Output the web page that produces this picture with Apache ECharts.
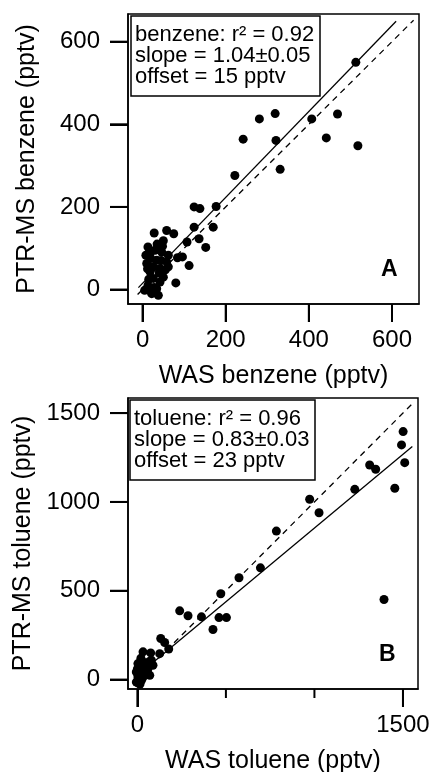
<!DOCTYPE html>
<html>
<head>
<meta charset="utf-8">
<script src="https://cdn.jsdelivr.net/npm/echarts@6/dist/echarts.min.js"></script>
<style>
  html, body { margin: 0; padding: 0; background: #fff; }
  #chart { width: 433px; height: 772px; }
</style>
</head>
<body>
<div id="chart"></div>
<script>
// panel A - benzene (pptv)
const benzeneWAS = [513, 281, 319, 407, 469, 242, 321, 442, 518, 331, 222, 124, 138, 177, 124, 170, 136, 152, 107, 28, 58, 75, 50, 84, 96, 112, 80,
    13, 18, 46, 10, 34, 58, 42, 18, 26, 13, 5, 22, 38, 34, 42, 62, 26, 50, 8, 62, 20, 30, 45, 55, 15, 28, 40, 12, 48, 35, 20, 30];
const benzenePTR = [550, 413, 426, 413, 425, 364, 361, 367, 348, 291, 276, 200, 196, 201, 151, 151, 123, 102, 115, 137, 143, 135, 118, 77, 79, 58, 16,
    103, 87, 91, 63, 71, 67, 51, 43, 27, 10, -2, -10, -14, 2, 18, 83, 55, 30, 83, 55, 75, 95, 70, 48, 25, 5, 40, 50, 105, 110, -5, -8];
const benzeneFit = [1.04, 15];   // slope, offset
const benzeneFitX = [-10, 610];
const benzeneOneX = [-12, 652];
const benzeneTicks = [0, 200, 400, 600];

// panel B - toluene (pptv)
const tolueneWAS = [1501, 1492, 1510, 1312, 1346, 1454, 1228, 973, 1026, 785, 1393, 695, 574, 471, 239, 286, 362, 461, 503, 427, 132, 154, 177, 126, 75, 32,
    88, 60, 32, 3, 13, 41, 3, 23, 70, -6, 51, 79, 13, -6, 20, 45, 10, 30, 55, 0, 35, 65, 5, 15];
const toluenePTR = [1396, 1321, 1221, 1208, 1184, 1077, 1071, 1015, 939, 836, 451, 629, 573, 483, 387, 359, 353, 349, 349, 282, 231, 209, 172, 146, 150, 156,
    81, 62, 99, 90, 52, 34, 15, -4, 24, -14, 71, 109, 71, 43, 120, 90, 30, 10, 45, 60, 60, 100, -20, -25];
const tolueneFit = [0.83, 23];
const tolueneFitX = [-10, 1553];
const tolueneOneX = [-12, 1548];
const tolueneTicks = [0, 500, 1000, 1500];
const tolueneLabels = [0, 1500];

const FONT = 'Liberation Sans';
const rangeA = { min: -35, max: 665 };
const rangeAy = { min: -35, max: 667 };
const rangeB = { min: -53, max: 1585 };

const pairs = (xs, ys) => xs.map((x, i) => [x, ys[i]]);
const fitLine = (fit, xs) => xs.map((x) => [x, fit[0] * x + fit[1]]);

const valueAxis = (grid, range, values, margin, name, nameGap) => ({
    type: 'value', gridIndex: grid, ...range,
    splitLine: { show: false },
    axisLine: { show: true, onZero: false, lineStyle: { color: '#000', width: 1.5 } },
    axisTick: { show: true, length: 18, customValues: values, lineStyle: { color: '#000', width: 2 } },
    axisLabel: { color: '#000', fontFamily: FONT, fontSize: 24, margin, customValues: values, formatter: (v) => String(v) },
    name, nameGap, nameLocation: 'middle',
    nameTextStyle: { color: '#000', fontFamily: FONT, fontSize: 25 }
});

// outward tick marks placed through the axis scales (custom series, not clipped to the grid)
const tickMarks = (axisIdx, points, dx, dy) => ({
    type: 'custom', xAxisIndex: axisIdx, yAxisIndex: axisIdx, clip: false, silent: true, z: 5,
    data: points,
    renderItem: (params, api) => {
        const p = api.coord([api.value(0), api.value(1)]);
        return {
            type: 'line',
            shape: { x1: p[0], y1: p[1], x2: p[0] + dx, y2: p[1] + dy },
            style: { stroke: '#000', lineWidth: 2 }
        };
    }
});

const statBox = {
    borderColor: '#000',
    borderWidth: 1.5,
    backgroundColor: '#fff',
    padding: [8, 6, 9, 4],
    textStyle: { color: '#000', fontFamily: FONT, fontSize: 22, fontWeight: 'normal', lineHeight: 21 }
};
const panelTag = {
    textStyle: { color: '#000', fontFamily: FONT, fontSize: 23, fontWeight: 'bold' }
};

const option = {
    animation: false,
    backgroundColor: '#fff',
    title: [
        { ...statBox, text: 'benzene: r² = 0.92\nslope = 1.04±0.05\noffset = 15 pptv', left: 131, top: 16 },
        { ...panelTag, text: 'A', left: 376, top: 253 },
        { ...statBox, text: 'toluene: r² = 0.96\nslope = 0.83±0.03\noffset = 23 pptv', left: 130, top: 400 },
        { ...panelTag, text: 'B', left: 374, top: 638 }
    ],
    grid: [
        { left: 128, top: 14, width: 291, height: 290, outerBoundsMode: 'none', show: true, borderColor: '#000', borderWidth: 1.5 },
        { left: 128, top: 398, width: 290, height: 291, outerBoundsMode: 'none', show: true, borderColor: '#000', borderWidth: 1.5 }
    ],
    xAxis: [
        valueAxis(0, rangeA, benzeneTicks, 24, 'WAS benzene (pptv)', 60),
        valueAxis(1, rangeB, tolueneLabels, 24, 'WAS toluene (pptv)', 60)
    ],
    yAxis: [
        valueAxis(0, rangeAy, benzeneTicks, 28, 'PTR-MS benzene (pptv)', 88),
        valueAxis(1, rangeB, tolueneTicks, 28, 'PTR-MS toluene (pptv)', 88)
    ],
    series: [
        {
            type: 'line', xAxisIndex: 0, yAxisIndex: 0, symbol: 'none',
            lineStyle: { color: '#000', width: 1.3, type: [6, 5] },
            data: fitLine([1, 0], benzeneOneX)
        },
        {
            type: 'line', xAxisIndex: 0, yAxisIndex: 0, symbol: 'none',
            lineStyle: { color: '#000', width: 1.3 },
            data: fitLine(benzeneFit, benzeneFitX)
        },
        {
            type: 'scatter', xAxisIndex: 0, yAxisIndex: 0, symbolSize: 9,
            itemStyle: { color: '#000', opacity: 1 },
            data: pairs(benzeneWAS, benzenePTR)
        },
        {
            type: 'line', xAxisIndex: 1, yAxisIndex: 1, symbol: 'none',
            lineStyle: { color: '#000', width: 1.3, type: [6, 5] },
            data: fitLine([1, 0], tolueneOneX)
        },
        {
            type: 'line', xAxisIndex: 1, yAxisIndex: 1, symbol: 'none',
            lineStyle: { color: '#000', width: 1.3 },
            data: fitLine(tolueneFit, tolueneFitX)
        },
        {
            type: 'scatter', xAxisIndex: 1, yAxisIndex: 1, symbolSize: 9,
            itemStyle: { color: '#000', opacity: 1 },
            data: pairs(tolueneWAS, toluenePTR)
        },
        // tick marks
        tickMarks(0, benzeneTicks.map((v) => [v, rangeAy.min]), 0, 18),
        tickMarks(0, benzeneTicks.map((v) => [rangeA.min, v]), -18, 0),
        tickMarks(1, tolueneLabels.map((v) => [v, rangeB.min]), 0, 18),
        tickMarks(1, tolueneTicks.filter((v) => !tolueneLabels.includes(v)).map((v) => [v, rangeB.min]), 0, 9),
        tickMarks(1, tolueneTicks.map((v) => [rangeB.min, v]), -18, 0)
    ]
};

const chart = echarts.init(document.getElementById('chart'));
chart.setOption(option);
</script>
</body>
</html>
